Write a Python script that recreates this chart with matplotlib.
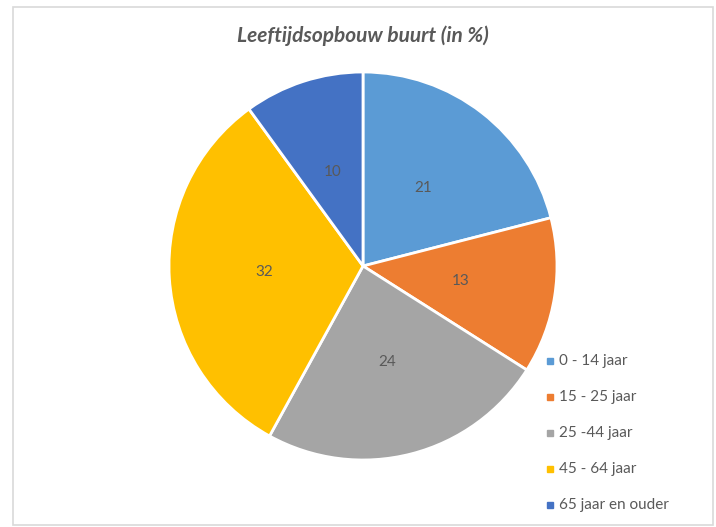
import matplotlib.pyplot as plt
from matplotlib.patches import Rectangle
from matplotlib.lines import Line2D

plt.rcParams['font.family'] = ['Lato', 'DejaVu Sans']

labels = ['0 - 14 jaar', '15 - 25 jaar', '25 -44 jaar', '45 - 64 jaar', '65 jaar en ouder']
values = [21, 13, 24, 32, 10]
colors = ['#5B9BD5', '#ED7D31', '#A5A5A5', '#FFC000', '#4472C4']
txt = '#595959'

W, H = 716, 527
fig = plt.figure(figsize=(W / 100, H / 100), dpi=100)

# grey chart border
fig.patches.append(Rectangle((13 / W, 2 / H), 700 / W, 518 / H, transform=fig.transFigure,
                             fill=False, edgecolor='#D9D9D9', linewidth=1.2))

# pie centre (363, 266), radius 194 px
r = 194
ax = fig.add_axes([(363 - r) / W, (H - 266 - r) / H, 2 * r / W, 2 * r / H])
wedges, texts = ax.pie(values, colors=colors, startangle=90, counterclock=False,
                       labels=[str(v) for v in values], labeldistance=0.51,
                       wedgeprops=dict(edgecolor='white', linewidth=2),
                       textprops=dict(color=txt, fontsize=11))
for t in texts:
    t.set_ha('center')
    t.set_va('center')
ax.set_aspect('equal')
ax.set_xlim(-1, 1)
ax.set_ylim(-1, 1)

fig.text(363 / W, (H - 36) / H, 'Leeftijdsopbouw buurt (in %)', ha='center', va='center',
         fontsize=15, fontweight='bold', fontstyle='italic', color=txt)

# legend
for i, (lab, c) in enumerate(zip(labels, colors)):
    y = (H - (361 + 36 * i)) / H
    fig.add_artist(Line2D([550 / W], [y], marker='s', markersize=5, color=c,
                          linestyle='none', transform=fig.transFigure))
    fig.text(559 / W, y, lab, ha='left', va='center', fontsize=11, color=txt)

fig.savefig('out.png', dpi=100)
